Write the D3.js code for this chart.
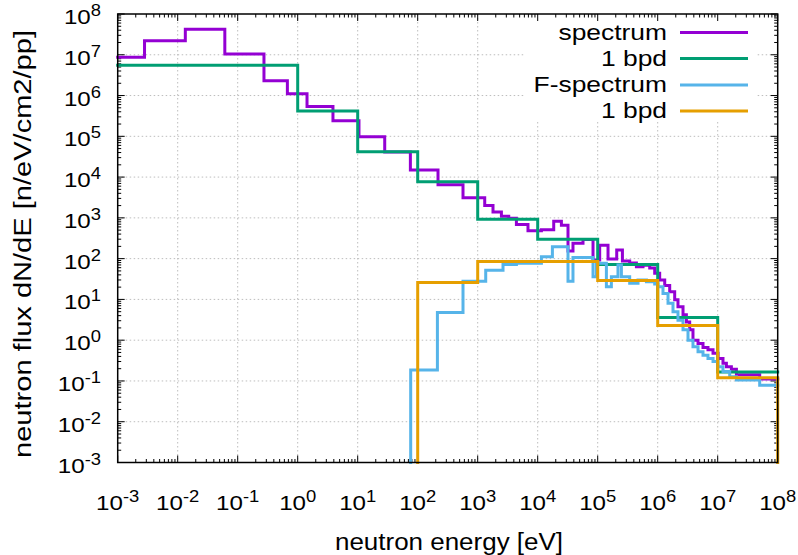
<!DOCTYPE html>
<html>
<head>
<meta charset="utf-8">
<script src="https://cdn.jsdelivr.net/npm/d3@7"></script>
<style>
  html, body { margin: 0; padding: 0; background: #fff; }
  svg { display: block; font-family: "Liberation Sans", Arial, sans-serif; }
</style>
</head>
<body>
<svg id="chart" width="798" height="555"></svg>
<script>
// ---------------- data ----------------
const xExponents = [-3, -2, -1, 0, 1, 2, 3, 4, 5, 6, 7, 8];
const yExponents = [-3, -2, -1, 0, 1, 2, 3, 4, 5, 6, 7, 8];

const seriesNames = ["spectrum", "1 bpd", "F-spectrum", "1 bpd"];

// spectrum (bin edges in eV, flux per bin)
const spectrumEdges = [1e-3, 2.8e-3, 1.34e-2, 6.1e-2, 0.274, 0.673, 1.43, 3.87, 10.5, 28.2, 75.5, 218, 569, 1309, 1799, 2483, 3289, 4416, 6887, 1.153e4, 1.849e4, 2.483e4, 3.199e4, 3.873e4, 5.689e4, 8.356e4, 1.079e5, 1.486e5, 2.075e5, 2.582e5, 3.412e5, 4.416e5, 5.689e5, 7.362e5, 8.913e5, 1.079e6, 1.309e6, 1.585e6, 1.919e6, 2.178e6, 2.642e6, 3.006e6, 3.412e6, 3.873e6, 4.699e6, 5.689e6, 6.887e6, 8.356e6, 1.012e7, 1.225e7, 1.396e7, 1.690e7, 2.051e7, 5.01e7, 1e8];
const spectrumFlux = [8.7e6, 2.2e7, 4.2e7, 1.05e7, 2.3e6, 1.1e6, 5.4e5, 2.4e5, 9.8e4, 4.1e4, 1.5e4, 6.5e3, 3.1e3, 2.0e3, 1.4e3, 1.1e3, 980, 690, 480, 510, 830, 660, 155, 240, 295, 93, 214, 98, 162, 87, 78, 63, 69, 59, 44, 30, 22, 15.5, 9.8, 6.6, 4.2, 2.8, 1.8, 1.0, 0.83, 0.66, 0.58, 0.48, 0.355, 0.27, 0.224, 0.195, 0.141, 0.112];

// 1 bpd (of spectrum)
const bpdEdges = [1e-3, 1, 10, 100, 1e3, 1e4, 1e5, 1e6, 1e7, 1e8];
const bpdFlux = [5.5e6, 4.2e5, 4.2e4, 7.7e3, 920, 300, 72, 3.6, 0.166];

// F-spectrum
const fSpectrumEdges = [76.4, 213, 569, 1360, 2642, 4416, 1.153e4, 1.758e4, 3.199e4, 3.873e4, 8.356e4, 9.51e4, 1.396e5, 1.690e5, 2.178e5, 2.483e5, 3.412e5, 4.699e5, 6.486e5, 8.913e5, 1.012e6, 1.225e6, 1.486e6, 1.799e6, 2.178e6, 2.642e6, 3.199e6, 3.873e6, 4.699e6, 5.689e6, 6.887e6, 8.356e6, 1.012e7, 1.225e7, 1.585e7, 2.051e7, 5.01e7, 1e8];
const fSpectrumFlux = [0.186, 4.8, 28, 52, 72, 77, 112, 196, 28, 106, 36, 77, 20.5, 36, 70, 36, 25, 30, 27, 24, 20.5, 14, 8.0, 5.0, 3.1, 1.8, 1.0, 0.69, 0.52, 0.43, 0.355, 0.30, 0.224, 0.17, 0.126, 0.105, 0.079];

// 1 bpd (of F-spectrum)
const fBpdEdges = [1e2, 1e3, 1e4, 1e5, 1e6, 1e7, 1e8];
const fBpdFlux = [26, 85, 85, 29, 2.3, 0.12];

const colors = ["#9400d3", "#009e73", "#56b4e9", "#e69f00"];

// ---------------- layout ----------------
const L = 117.7, R = 777.7, T = 14, B = 462.5;
const SX = 1.15; // horizontal text stretch of the reference

const svg = d3.select("#chart");
const x = d3.scaleLog().domain([1e-3, 1e8]).range([L, R]);
const y = d3.scaleLog().domain([1e-3, 1e8]).range([B, T]);

// grid
const grid = svg.append("g").attr("stroke", "#bdbdbd").attr("stroke-width", 1).attr("stroke-dasharray", "1.5,2.5");
xExponents.slice(1, -1).forEach(e => {
  grid.append("line").attr("x1", x(Math.pow(10, e))).attr("x2", x(Math.pow(10, e))).attr("y1", T).attr("y2", B);
});
yExponents.slice(1, -1).forEach(e => {
  grid.append("line").attr("y1", y(Math.pow(10, e))).attr("y2", y(Math.pow(10, e))).attr("x1", L).attr("x2", R);
});

// legend background (hides grid)
svg.append("rect").attr("x", 525).attr("y", T + 1).attr("width", 232).attr("height", 107).attr("fill", "#fff");

// ticks (inside, mirrored)
const ticks = svg.append("g").attr("stroke", "#000").attr("stroke-width", 1);
function logTicks(exps) {
  const out = [];
  for (let i = 0; i < exps.length; i++) {
    const e = exps[i];
    out.push({v: Math.pow(10, e), major: true});
    if (i < exps.length - 1) for (let m = 2; m <= 9; m++) out.push({v: m * Math.pow(10, e), major: false});
  }
  return out;
}
logTicks(xExponents).forEach(t => {
  const px = x(t.v), len = t.major ? 7 : 3.5;
  ticks.append("line").attr("x1", px).attr("x2", px).attr("y1", B).attr("y2", B - len);
  ticks.append("line").attr("x1", px).attr("x2", px).attr("y1", T).attr("y2", T + len);
});
logTicks(yExponents).forEach(t => {
  const py = y(t.v), len = t.major ? 7 : 3.5;
  ticks.append("line").attr("y1", py).attr("y2", py).attr("x1", L).attr("x2", L + len);
  ticks.append("line").attr("y1", py).attr("y2", py).attr("x1", R).attr("x2", R - len);
});

// series
function stepPoints(edges, vals, dropStart, dropEnd) {
  const pts = [];
  if (dropStart) pts.push([edges[0], 1e-3]);
  edges.forEach((e, i) => pts.push([e, vals[Math.min(i, vals.length - 1)]]));
  if (dropEnd) pts.push([edges[edges.length - 1], 1e-3]);
  return pts;
}
const line = d3.line().x(d => x(d[0])).y(d => y(d[1])).curve(d3.curveStepAfter);
const series = [
  stepPoints(spectrumEdges, spectrumFlux, false, false),
  stepPoints(bpdEdges, bpdFlux, false, false),
  stepPoints(fSpectrumEdges, fSpectrumFlux, true, false),
  stepPoints(fBpdEdges, fBpdFlux, true, true)
];
series.forEach((pts, i) => {
  svg.append("path").attr("d", line(pts)).attr("fill", "none")
    .attr("stroke", colors[i]).attr("stroke-width", 3).attr("stroke-linejoin", "miter").attr("stroke-linecap", "square");
});

// border
svg.append("rect").attr("x", L).attr("y", T).attr("width", R - L).attr("height", B - T)
  .attr("fill", "none").attr("stroke", "#000").attr("stroke-width", 1.5);

// tick labels
function powLabel(px, py, e, anchor) {
  const g = svg.append("g").attr("transform", `translate(${px},${py}) scale(${SX},1)`);
  const t = g.append("text").attr("text-anchor", anchor).attr("font-size", 21).attr("fill", "#000");
  t.append("tspan").text("10");
  t.append("tspan").attr("dy", -8).attr("font-size", 16).text(String(e));
}
xExponents.forEach(e => powLabel(x(Math.pow(10, e)), 510, e, "middle"));
yExponents.forEach(e => powLabel(101, y(Math.pow(10, e)) + 10, e, "end"));

// axis titles
svg.append("text").attr("x", 449).attr("y", 550).attr("text-anchor", "middle")
  .attr("font-size", 23).attr("textLength", 228).attr("lengthAdjust", "spacingAndGlyphs")
  .text("neutron energy [eV]");
svg.append("text").attr("transform", "translate(31,244) rotate(-90)").attr("text-anchor", "middle")
  .attr("font-size", 23).attr("textLength", 428).attr("lengthAdjust", "spacingAndGlyphs")
  .text("neutron flux dN/dE [n/eV/cm2/pp]");

// legend
const legBase = [39.5, 65.5, 92, 118];
seriesNames.forEach((name, i) => {
  const g = svg.append("g").attr("transform", `translate(667,${legBase[i]}) scale(1.2,1)`);
  g.append("text").attr("text-anchor", "end").attr("font-size", 22).text(name);
  svg.append("line").attr("x1", 680).attr("x2", 748).attr("y1", legBase[i] - 7).attr("y2", legBase[i] - 7)
    .attr("stroke", colors[i]).attr("stroke-width", 3);
});
</script>
</body>
</html>
